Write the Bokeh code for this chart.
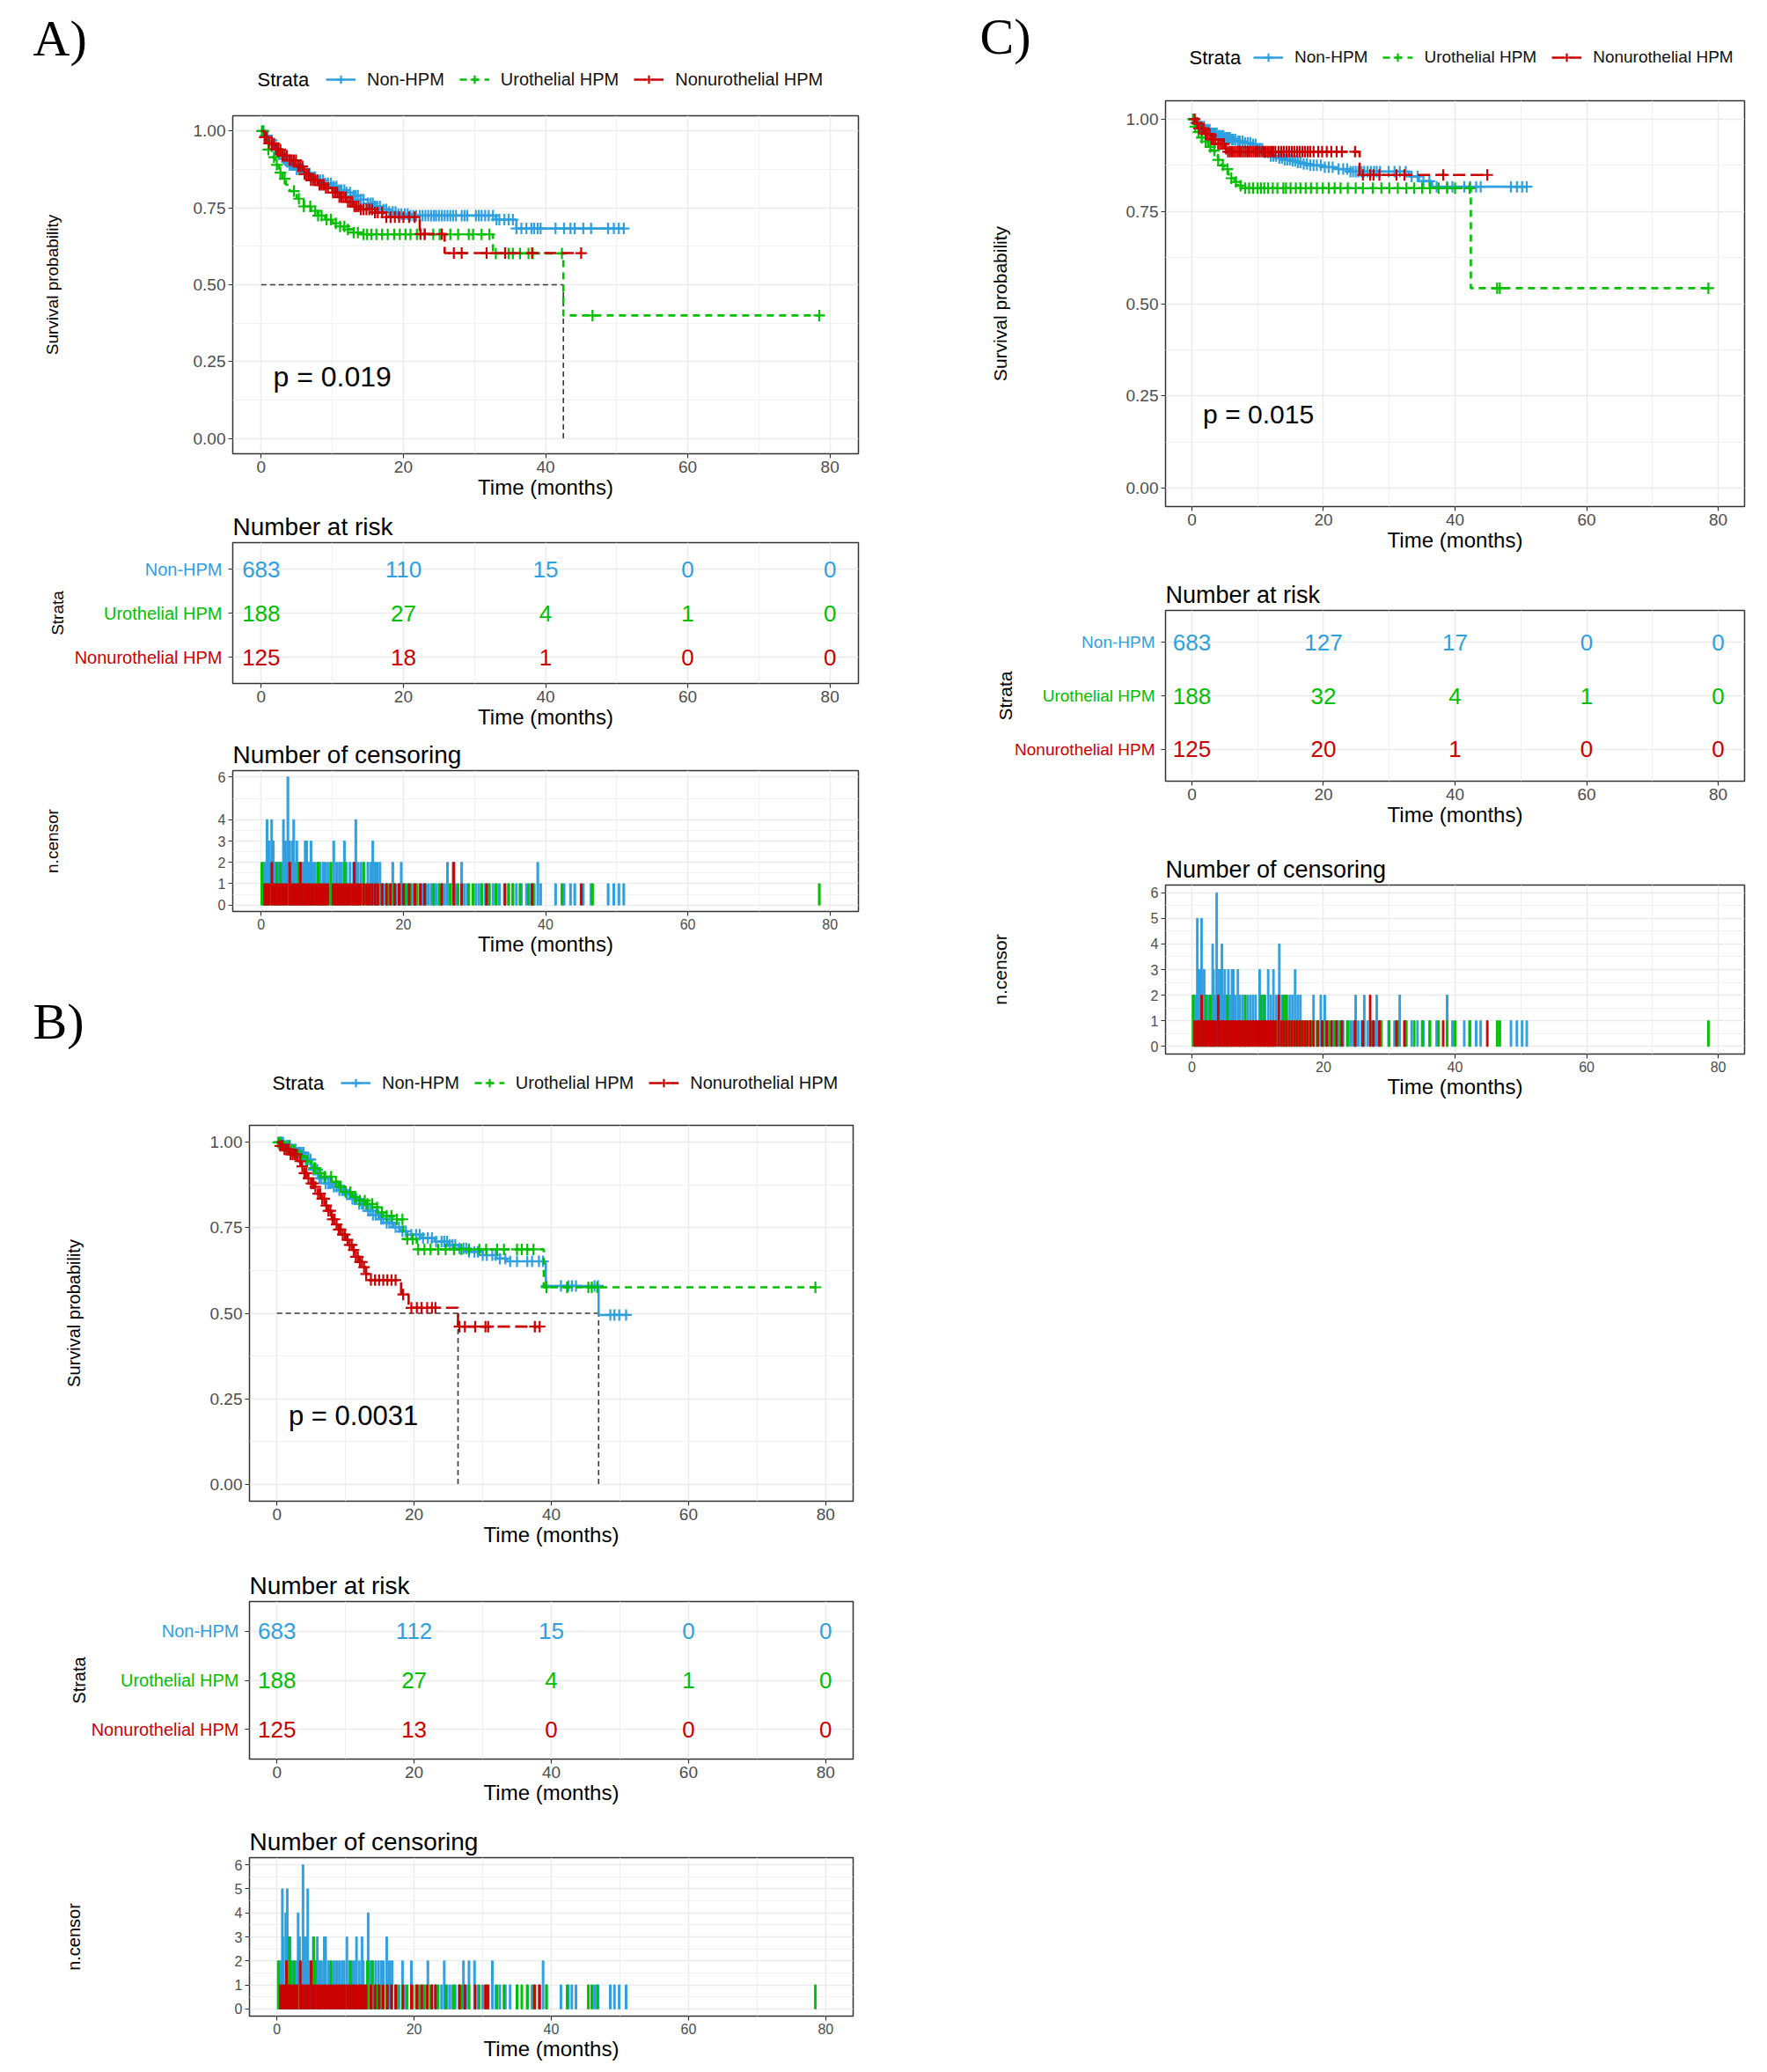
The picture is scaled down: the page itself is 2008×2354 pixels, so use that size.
import numpy as np
from bokeh.plotting import figure
from bokeh.models import (Range1d, FixedTicker, NumeralTickFormatter, Legend, LegendItem,
                          ColumnDataSource)
from bokeh.embed import file_html
from bokeh.resources import INLINE
from bokeh.core.properties import value

FONT = "Liberation Sans"
SERIF = "Liberation Serif"

GROUPS = ["Non-HPM", "Urothelial HPM", "Nonurothelial HPM"]
GROUP_COLORS = ["#2E9FDF", "#00C000", "#CC0000"]
GROUP_DASHES = ["solid", "8 6", "14 6"]
GROUP_ROWS = [3, 2, 1]
LEGEND_TITLE = "Strata"

TIME_TICKS = [0, 20, 40, 60, 80]
TIME_MINOR = [10, 30, 50, 70]
SURV_TICKS = [0, 0.25, 0.5, 0.75, 1.0]
SURV_MINOR = [0.125, 0.375, 0.625, 0.875]
RISK_TIMES = [0, 20, 40, 60, 80]

# ---------------- Panel A ----------------
A_PVAL = "p = 0.019"
A_MEDIANS = [42.5]
A_NON_ST = [0, 0.5, 1, 1.5, 2, 2.5, 3, 3.5, 4, 5, 6, 7, 8, 9, 10, 11, 12, 13, 14, 15, 16, 17, 18, 19, 21, 33, 35.9]
A_NON_SS = [1.0, 0.985, 0.97, 0.955, 0.94, 0.925, 0.91, 0.90, 0.89, 0.875, 0.862, 0.85, 0.84, 0.83, 0.82, 0.808,
            0.80, 0.79, 0.777, 0.765, 0.755, 0.745, 0.737, 0.73, 0.725, 0.712, 0.683]
A_URO_ST = [0, 0.5, 1, 1.5, 2, 2.5, 3, 3.5, 4, 5, 6, 7, 8, 9, 10, 11, 12, 13, 14, 32.6, 42.5]
A_URO_SS = [1.0, 0.97, 0.94, 0.915, 0.89, 0.865, 0.845, 0.825, 0.805, 0.78, 0.755, 0.74, 0.725, 0.712, 0.70,
            0.69, 0.68, 0.67, 0.664, 0.602, 0.40]
A_NONU_ST = [0, 0.5, 1, 2, 3, 4, 5, 6, 7, 8, 9, 10, 11, 12, 13, 14, 16, 17.5, 22.3, 25.8]
A_NONU_SS = [1.0, 0.98, 0.96, 0.94, 0.92, 0.905, 0.885, 0.86, 0.84, 0.825, 0.815, 0.80, 0.785, 0.77, 0.755,
             0.745, 0.735, 0.72, 0.665, 0.603]

A_NON_CT = [0.3, 0.6, 0.82, 1.1, 1.3, 1.48, 1.7, 2.0, 2.3, 2.6,
            2.9, 3.13, 3.4, 3.6, 3.75, 4.0, 4.2, 4.4, 4.58, 4.8,
            5.0, 5.3, 5.6, 5.9, 6.2, 6.4, 6.6, 6.8, 7.0, 7.3,
            7.6, 8.0, 8.3, 8.7, 9.0, 9.4, 9.8, 10.2, 10.6, 11.0,
            11.3, 11.7, 12.0, 12.5, 13.0, 13.3, 13.6, 14.0, 14.4, 15.0,
            15.4, 15.7, 16.0, 16.3, 16.7, 17.2, 17.6, 18.0, 18.5, 18.9,
            19.3, 19.7, 20.2, 20.6, 21.0, 21.4, 21.8, 22.3, 22.7, 23.1,
            23.5, 23.9, 24.3, 24.6, 25.0, 25.4, 25.8, 26.2, 26.6, 27.0,
            27.4, 28.2, 28.6, 29.0, 30.2, 30.6, 31.0, 31.5, 32.0, 32.6,
            33.1, 33.5, 34.2, 34.8, 35.4, 35.9, 36.6, 37.3, 38.0, 38.4,
            38.9, 39.3, 41.4, 42.6, 43.5, 44.1, 45.3, 46.4, 48.8, 49.6,
            50.3, 51.0]
A_NON_CN = [2, 2, 4, 3, 2, 4, 3, 2, 2, 2,
            2, 4, 3, 2, 6, 3, 2, 3, 4, 2,
            3, 2, 2, 2, 3, 3, 2, 2, 3, 2,
            2, 2, 2, 2, 2, 2, 2, 3, 2, 2,
            2, 3, 2, 2, 2, 4, 2, 2, 2, 2,
            2, 3, 2, 2, 2, 1, 1, 1, 2, 1,
            1, 2, 1, 1, 1, 1, 1, 1, 1, 1,
            1, 1, 1, 1, 1, 1, 1, 2, 1, 2,
            1, 2, 1, 1, 1, 1, 1, 1, 1, 1,
            1, 1, 1, 1, 1, 1, 1, 1, 1, 1,
            2, 1, 1, 1, 1, 1, 1, 1, 1, 1,
            1, 1]
A_URO_CT = [0.1, 0.3, 1.0, 1.8, 2.2, 2.7, 3.3, 4.6, 5.3, 6.0,
            6.9, 7.6, 8.0, 8.5, 9.2, 9.8, 10.5, 11.1, 11.7, 12.2,
            13.0, 13.6, 14.4, 14.9, 15.5, 16.2, 17.0, 17.8, 18.7, 19.5,
            20.3, 21.0, 21.9, 23.0, 24.2, 25.1, 26.6, 27.7, 29.2, 29.8,
            31.0, 32.1, 33.0, 34.8, 35.4, 36.4, 37.6, 38.2, 42.3, 46.6,
            78.5]
A_URO_CN = [2, 1, 1, 1, 2, 2, 1, 1, 2, 1,
            1, 1, 2, 1, 1, 2, 1, 1, 2, 1,
            1, 1, 2, 1, 1, 1, 1, 1, 1, 1,
            1, 1, 1, 1, 1, 1, 1, 1, 1, 1,
            1, 1, 1, 1, 1, 1, 1, 1, 1, 1,
            1]
A_NONU_CT = [0.5, 0.8, 1.1, 1.5, 1.8, 2.1, 2.4, 2.7, 3.0, 3.3,
             3.6, 4.0, 4.3, 4.6, 4.9, 5.2, 5.5, 5.8, 6.1, 6.4,
             6.7, 7.0, 7.3, 7.6, 7.9, 8.2, 8.5, 8.8, 9.1, 9.4,
             10.1, 10.4, 10.7, 11.0, 11.3, 11.6, 11.9, 12.2, 12.5, 12.8,
             13.1, 13.4, 13.7, 14.0, 14.4, 14.8, 15.2, 15.6, 16.0, 16.4,
             17.0, 17.6, 18.2, 18.8, 19.4, 20.0, 20.8, 21.6, 22.4, 23.0,
             25.4, 27.1, 28.2, 31.7, 34.3, 38.1, 45.0]
A_NONU_CN = [1, 1, 1, 2, 1, 1, 1, 1, 1, 1,
             1, 2, 1, 1, 1, 1, 2, 1, 1, 1,
             1, 1, 1, 1, 1, 1, 1, 1, 1, 1,
             1, 1, 1, 1, 1, 1, 1, 1, 1, 1,
             2, 1, 1, 1, 1, 1, 1, 1, 1, 1,
             1, 1, 1, 1, 1, 1, 1, 1, 1, 1,
             1, 2, 1, 1, 1, 1, 1]
A_RISK_NON = [683, 110, 15, 0, 0]
A_RISK_URO = [188, 27, 4, 1, 0]
A_RISK_NONU = [125, 18, 1, 0, 0]
A_CENS_TICKS = [0, 1, 2, 3, 4, 6]
A_CENS_MINOR = [0.5, 1.5, 2.5, 3.5, 5]

# ---------------- Panel B ----------------
B_PVAL = "p = 0.0031"
B_MEDIANS = [26.4, 46.9]
B_NON_ST = [0, 1, 2, 3, 4, 5, 6, 7, 8, 9, 10, 11, 12, 13, 14, 15, 16, 17, 18, 19, 21, 23, 25, 26.5, 28, 30,
            32, 33.5, 39.2, 46.9]
B_NON_SS = [1.0, 0.99, 0.98, 0.97, 0.95, 0.92, 0.895, 0.88, 0.87, 0.86, 0.848, 0.835, 0.82, 0.80, 0.788,
            0.776, 0.765, 0.752, 0.74, 0.73, 0.72, 0.71, 0.70, 0.69, 0.68, 0.67, 0.66, 0.652, 0.58, 0.495]
B_URO_ST = [0, 1, 2, 3, 4, 5, 6, 7, 8, 9, 10, 11, 12, 13, 14, 15, 16, 17, 18.4, 20.4, 38.9]
B_URO_SS = [1.0, 0.99, 0.975, 0.96, 0.945, 0.925, 0.91, 0.90, 0.885, 0.87, 0.855, 0.84, 0.83, 0.82, 0.81,
            0.795, 0.785, 0.775, 0.717, 0.687, 0.576]
B_NONU_ST = [0, 0.5, 1, 2, 3, 3.5, 4, 4.5, 5, 5.5, 6, 6.5, 7, 7.5, 8, 8.5, 9, 9.5, 10, 10.5, 11, 11.5, 12,
             12.5, 13, 13.4, 18.1, 19.2, 26.4]
B_NONU_SS = [1.0, 0.99, 0.98, 0.965, 0.945, 0.93, 0.91, 0.895, 0.88, 0.87, 0.85, 0.835, 0.815, 0.80, 0.775,
             0.76, 0.745, 0.73, 0.715, 0.70, 0.685, 0.665, 0.65, 0.635, 0.615, 0.597, 0.555, 0.516, 0.461]

B_NON_CT = [0.3, 0.6, 0.8, 0.9, 1.3, 1.5, 1.7, 1.9, 2.1, 2.4,
            2.7, 3.0, 3.1, 3.3, 3.5, 3.8, 3.9, 4.2, 4.5, 4.6,
            4.9, 5.3, 5.6, 5.9, 6.2, 6.5, 6.9, 7.1, 7.5, 7.8,
            8.3, 8.7, 9.1, 9.5, 9.8, 10.2, 10.6, 11.0, 11.3, 11.6,
            12.0, 12.4, 12.6, 13.3, 13.6, 14.0, 14.4, 14.8, 15.2, 15.5,
            16.0, 16.4, 16.8, 17.3, 17.8, 18.3, 18.8, 19.6, 20.3, 20.8,
            21.3, 22.0, 22.6, 23.2, 24.0, 24.4, 24.8, 25.2, 25.6, 26.0,
            26.6, 27.2, 27.6, 28.0, 28.8, 29.3, 30.0, 30.6, 31.4, 31.9,
            32.5, 33.3, 34.0, 35.0, 36.5, 37.2, 38.2, 38.8, 39.3, 41.4,
            42.5, 43.0, 43.6, 46.3, 46.8, 48.6, 49.2, 49.9, 50.9]
B_NON_CN = [2, 2, 5, 3, 4, 5, 3, 3, 2, 2,
            2, 2, 4, 3, 2, 6, 3, 3, 5, 2,
            2, 3, 2, 3, 2, 2, 3, 3, 2, 2,
            2, 2, 2, 2, 2, 3, 2, 2, 2, 3,
            2, 3, 2, 4, 2, 2, 2, 2, 2, 2,
            3, 2, 2, 1, 1, 2, 1, 2, 1, 1,
            1, 2, 1, 1, 1, 2, 1, 1, 1, 1,
            1, 2, 1, 2, 2, 1, 1, 1, 2, 1,
            1, 1, 1, 1, 1, 1, 1, 2, 1, 1,
            1, 1, 1, 1, 1, 1, 1, 1, 1]
B_URO_CT = [0.2, 0.5, 1.0, 1.8, 2.0, 2.5, 3.0, 3.6, 4.4, 5.4,
            5.6, 6.3, 7.0, 7.9, 8.6, 9.3, 10.0, 10.7, 11.4, 12.1,
            12.8, 13.2, 13.9, 14.6, 15.3, 16.0, 16.7, 17.5, 18.3, 19.0,
            19.8, 20.6, 21.5, 22.4, 23.5, 24.6, 25.8, 26.9, 28.0, 29.5,
            30.5, 32.1, 33.1, 35.0, 35.7, 36.5, 37.4, 39.3, 42.3, 45.4,
            45.9, 46.7, 78.5]
B_URO_CN = [2, 1, 1, 3, 2, 2, 1, 1, 1, 3,
            2, 1, 1, 2, 1, 1, 1, 2, 1, 1,
            1, 2, 2, 1, 1, 1, 1, 1, 1, 1,
            1, 1, 1, 1, 1, 1, 1, 1, 1, 1,
            1, 1, 1, 1, 1, 1, 1, 1, 1, 1,
            1, 1, 1]
B_NONU_CT = [0.5, 0.8, 1.1, 1.4, 1.7, 2.0, 2.3, 2.6, 2.9, 3.4,
             3.7, 4.0, 4.3, 4.6, 5.0, 5.3, 5.6, 6.0, 6.3, 6.6,
             6.9, 7.2, 7.5, 7.8, 8.1, 8.4, 8.7, 9.0, 9.3, 9.6,
             9.9, 10.3, 10.6, 10.9, 11.2, 11.5, 11.8, 12.1, 12.4, 12.7,
             13.0, 13.7, 14.3, 14.9, 15.5, 16.1, 16.7, 17.3, 18.4, 19.6,
             20.4, 21.1, 21.9, 22.6, 23.1, 26.6, 27.4, 28.9, 30.4, 30.8,
             37.6, 38.3]
B_NONU_CN = [1, 1, 1, 2, 1, 1, 1, 1, 1, 2,
             1, 1, 1, 1, 2, 1, 1, 1, 1, 1,
             1, 1, 1, 1, 1, 1, 1, 1, 1, 1,
             1, 1, 1, 1, 1, 1, 1, 1, 1, 1,
             1, 1, 1, 1, 1, 1, 1, 1, 1, 1,
             1, 1, 1, 1, 1, 1, 1, 1, 1, 1,
             1, 1]
B_RISK_NON = [683, 112, 15, 0, 0]
B_RISK_URO = [188, 27, 4, 1, 0]
B_RISK_NONU = [125, 13, 0, 0, 0]
B_CENS_TICKS = [0, 1, 2, 3, 4, 5, 6]
B_CENS_MINOR = [0.5, 1.5, 2.5, 3.5, 4.5, 5.5]

# ---------------- Panel C ----------------
C_PVAL = "p = 0.015"
C_MEDIANS = []
C_NON_ST = [0, 0.5, 1, 2, 3, 4, 5, 6, 7, 8, 9, 10, 11, 12, 13, 14, 15, 16, 17, 18, 20, 22, 24, 33, 34.5, 36.5]
C_NON_SS = [1.0, 0.99, 0.98, 0.972, 0.962, 0.955, 0.95, 0.945, 0.94, 0.936, 0.932, 0.92, 0.91, 0.90, 0.895,
            0.89, 0.887, 0.883, 0.879, 0.875, 0.87, 0.865, 0.858, 0.845, 0.832, 0.817]
C_URO_ST = [0, 0.5, 1, 1.5, 2, 2.5, 3, 3.5, 4, 4.5, 5, 5.5, 6, 6.5, 7, 7.6, 42.4]
C_URO_SS = [1.0, 0.98, 0.965, 0.95, 0.94, 0.925, 0.915, 0.90, 0.89, 0.875, 0.865, 0.85, 0.84, 0.83, 0.82,
            0.813, 0.542]
C_NONU_ST = [0, 0.5, 1, 2, 3, 4, 5, 5.5, 25.5]
C_NONU_SS = [1.0, 0.99, 0.975, 0.96, 0.945, 0.933, 0.92, 0.912, 0.849]

C_NON_CT = [0.3, 0.6, 0.84, 1.1, 1.33, 1.47, 1.87, 2.1, 2.4, 2.7,
            3.0, 3.16, 3.3, 3.55, 3.78, 4.1, 4.3, 4.58, 4.8, 5.0,
            5.3, 5.55, 5.8, 6.1, 6.3, 6.6, 7.0, 7.3, 7.7, 8.1,
            8.5, 8.9, 9.3, 9.7, 10.3, 10.7, 11.1, 11.6, 12.0, 12.4,
            12.8, 13.3, 13.7, 14.1, 14.5, 14.9, 15.3, 15.7, 16.1, 16.5,
            17.0, 17.5, 18.0, 18.5, 19.0, 19.6, 20.2, 20.8, 21.4, 22.3,
            23.0, 23.6, 24.1, 24.5, 24.9, 25.3, 25.8, 26.2, 26.7, 27.2,
            27.7, 28.1, 28.6, 29.9, 30.8, 31.6, 32.5, 33.4, 34.3, 35.2,
            36.1, 37.2, 38.8, 39.6, 41.4, 42.3, 43.2, 43.9, 48.5, 49.4,
            50.2, 50.9]
C_NON_CN = [2, 2, 5, 3, 3, 5, 3, 2, 2, 2,
            2, 4, 3, 2, 6, 3, 3, 4, 2, 3,
            2, 3, 2, 3, 3, 2, 3, 2, 2, 2,
            2, 2, 2, 2, 3, 2, 2, 3, 2, 3,
            2, 4, 2, 2, 2, 2, 2, 3, 2, 2,
            1, 1, 1, 2, 1, 2, 2, 1, 1, 1,
            1, 1, 1, 1, 2, 1, 1, 2, 1, 1,
            1, 2, 1, 1, 1, 2, 1, 1, 1, 1,
            1, 1, 2, 1, 1, 1, 1, 1, 1, 1,
            1, 1]
C_URO_CT = [0.18, 0.5, 1.0, 1.5, 2.1, 2.8, 3.4, 4.0, 4.7, 5.4,
            6.0, 6.7, 7.4, 8.1, 8.7, 9.3, 10.0, 10.5, 11.0, 11.6,
            12.3, 13.0, 13.9, 14.3, 15.0, 15.8, 16.5, 17.3, 18.1, 19.0,
            19.9, 20.8, 21.7, 22.6, 23.7, 24.9, 26.0, 27.5, 28.8, 30.0,
            31.3, 32.6, 33.8, 35.0, 36.2, 37.5, 38.8, 40.0, 42.2, 46.4,
            46.8, 78.5]
C_URO_CN = [2, 1, 1, 1, 2, 2, 1, 1, 1, 2,
            1, 1, 1, 2, 1, 1, 1, 2, 2, 1,
            1, 1, 2, 2, 1, 1, 1, 1, 1, 1,
            1, 1, 1, 1, 1, 1, 1, 1, 1, 1,
            1, 1, 1, 1, 1, 1, 1, 1, 1, 1,
            1, 1]
C_NONU_CT = [0.44, 0.8, 1.1, 1.5, 1.8, 2.1, 2.4, 2.7, 3.0, 3.3,
             3.6, 4.0, 4.3, 4.6, 4.9, 5.2, 5.5, 5.8, 6.1, 6.4,
             6.7, 7.0, 7.3, 7.6, 7.9, 8.2, 8.5, 8.8, 9.1, 9.4,
             9.7, 10.0, 10.3, 10.6, 10.9, 11.2, 11.5, 11.8, 12.1, 12.4,
             12.7, 13.2, 13.6, 14.0, 14.4, 14.8, 15.2, 15.6, 16.0, 16.4,
             16.8, 17.2, 17.6, 18.0, 18.5, 19.2, 19.8, 20.5, 21.2, 22.0,
             22.8, 24.8, 26.0, 27.1, 27.6, 28.5, 31.1, 32.3, 38.2, 44.9]
C_NONU_CN = [1, 1, 1, 2, 1, 1, 1, 1, 1, 1,
             1, 2, 1, 1, 1, 1, 1, 1, 1, 1,
             1, 1, 1, 1, 1, 1, 1, 1, 1, 1,
             1, 1, 1, 1, 1, 1, 1, 1, 1, 1,
             1, 2, 1, 1, 1, 1, 1, 1, 1, 1,
             1, 1, 1, 1, 1, 1, 1, 1, 1, 1,
             1, 1, 1, 2, 1, 1, 1, 1, 1, 1]
C_RISK_NON = [683, 127, 17, 0, 0]
C_RISK_URO = [188, 32, 4, 1, 0]
C_RISK_NONU = [125, 20, 1, 0, 0]
C_CENS_TICKS = [0, 1, 2, 3, 4, 5, 6]
C_CENS_MINOR = [0.5, 1.5, 2.5, 3.5, 4.5, 5.5]


def place(p, left, top):
    p.styles = {"position": "absolute", "left": f"{left}px", "top": f"{top}px"}


def new_fig(g, xr, yr, **kw):
    left, top, W, H, bl, br, bt, bb = g
    p = figure(width=W, height=H, x_range=xr, y_range=yr, output_backend="svg", toolbar_location=None,
               min_border_left=bl, min_border_right=br, min_border_top=bt, min_border_bottom=bb, **kw)
    place(p, left, top)
    return p


def transparent(p):
    p.background_fill_color = None
    p.border_fill_color = None
    p.outline_line_color = None


def base_style(p, tick_fs, xtitle_fs, ytitle_fs, ystandoff):
    p.background_fill_color = "white"
    p.border_fill_color = None
    p.outline_line_color = "#333333"
    p.outline_line_width = 1.5
    for ax in p.axis:
        ax.axis_line_color = None
        ax.major_tick_line_color = "#333333"
        ax.major_tick_line_width = 1.2
        ax.major_tick_out = 5
        ax.major_tick_in = 0
        ax.minor_tick_line_color = None
        ax.major_label_text_font = FONT
        ax.major_label_text_font_size = f"{tick_fs}px"
        ax.major_label_text_color = "#4D4D4D"
        ax.major_label_standoff = 3
        ax.axis_label_text_font = FONT
        ax.axis_label_text_font_style = "normal"
        ax.axis_label_text_color = "black"
    p.xaxis.axis_label_text_font_size = f"{xtitle_fs}px"
    p.yaxis.axis_label_text_font_size = f"{ytitle_fs}px"
    p.xaxis.axis_label_standoff = 0
    p.yaxis.axis_label_standoff = ystandoff
    xt = FixedTicker(ticks=TIME_TICKS, minor_ticks=TIME_MINOR)
    p.xaxis.ticker = xt
    p.xgrid.ticker = xt
    p.xaxis.axis_label = "Time (months)"
    for g in (p.xgrid, p.ygrid):
        g.grid_line_color = "#EBEBEB"
        g.grid_line_width = 1.5
        g.minor_grid_line_color = "#F1F1F1"
        g.minor_grid_line_width = 1


def set_title(p, text, fs):
    p.title.text = text
    p.title.text_font = FONT
    p.title.text_font_size = f"{fs}px"
    p.title.text_font_style = "normal"
    p.title.text_color = "black"
    p.title.align = "left"
    p.title.standoff = 6


def surv_fig(g, curves, cens, pval, medians, fs):
    p = new_fig(g, Range1d(-4, 84), Range1d(-0.05, 1.05))
    base_style(p, fs["tick"], fs["xtitle"], fs["ytitle"], fs["ysurv"])
    yt = FixedTicker(ticks=SURV_TICKS, minor_ticks=SURV_MINOR)
    p.yaxis.ticker = yt
    p.ygrid.ticker = yt
    p.yaxis.formatter = NumeralTickFormatter(format="0.00")
    p.yaxis.axis_label = "Survival probability"

    if medians:
        n = len(medians)
        p.line([0, max(medians)], [0.5, 0.5], line_color="#3A3A3A", line_width=1.6, line_dash="6 4")
        p.segment(x0=medians, y0=[0] * n, x1=medians, y1=[0.5] * n,
                  line_color="#3A3A3A", line_width=1.6, line_dash="6 4")

    for (st, ss), (ct, cn), color, dash in zip(curves, cens, GROUP_COLORS, GROUP_DASHES):
        st = np.asarray(st, float)
        ss = np.asarray(ss, float)
        ct = np.asarray(ct, float)
        end = max(st[-1], ct.max())
        xs = np.append(st, end)
        ys = np.append(ss, ss[-1])
        p.step(xs, ys, mode="after", line_color=color, line_width=2.6, line_dash=dash)
        idx = np.searchsorted(st, ct, side="right") - 1
        p.scatter(ct, ss[idx], marker="cross", size=13, line_color=color, line_width=2.2)

    p.text(x=[1.7], y=[0.2], text=[pval], text_font=value(FONT), text_font_size=f"{fs['pval']}px",
           text_baseline="middle", text_align="left", text_color="black")
    return p


def legend_fig(left, top, W, H, fs, offset, curves):
    """Legend keys: each group's own curve start (time 0, survival 1) drawn far outside the
    visible window of this small legend-only plot, so only the legend entries show."""
    g = (left, top, W, H, 0, 0, 0, 0)
    p = new_fig(g, Range1d(10, 10 + W), Range1d(10, 10 + H), x_axis_type=None, y_axis_type=None)
    transparent(p)
    p.text(x=[10], y=[10 + H / 2], text=[LEGEND_TITLE], text_font=value(FONT),
           text_font_size=f"{fs['ltitle']}px", text_baseline="middle", text_align="left",
           text_color="black")
    items = []
    for name, (st, ss), color, dash in zip(GROUPS, curves, GROUP_COLORS, GROUP_DASHES):
        r1 = p.step(x=st[:2], y=ss[:2], mode="after", line_color=color, line_width=2.6, line_dash=dash)
        r2 = p.scatter(x=st[:1], y=ss[:1], marker="cross", size=13, line_color=color, line_width=2.2)
        items.append(LegendItem(label=name, renderers=[r1, r2]))
    gh = 24
    leg = Legend(items=items, orientation="horizontal", location=(offset, (H - gh) / 2), glyph_width=34,
                 glyph_height=gh, label_height=gh, label_standoff=13, spacing=17, padding=0, margin=0,
                 border_line_color=None, background_fill_alpha=0, label_text_font=FONT,
                 label_text_font_size=f"{fs['legend']}px", label_text_color="#111111")
    p.add_layout(leg)
    return p


def risk_fig(g, risks, fs, ystand):
    p = new_fig(g, Range1d(-4, 84), Range1d(0.4, 3.6))
    base_style(p, fs["tick"], fs["xtitle"], fs["ytitle"], ystand)
    set_title(p, "Number at risk", fs["ttitle"])
    yt = FixedTicker(ticks=GROUP_ROWS, minor_ticks=[])
    p.yaxis.ticker = yt
    p.ygrid.ticker = yt
    p.yaxis.major_label_overrides = {1: "", 2: "", 3: ""}
    p.yaxis.axis_label = "Strata"
    p.ygrid.minor_grid_line_color = None

    xs, ys, txt, cols = [], [], [], []
    for rv, r, c in zip(risks, GROUP_ROWS, GROUP_COLORS):
        for t, v in zip(RISK_TIMES, rv):
            xs.append(t)
            ys.append(r)
            txt.append(str(v))
            cols.append(c)
    src = ColumnDataSource(dict(x=xs, y=ys, text=txt, color=cols))
    p.text(x="x", y="y", text="text", text_color="color", source=src, text_align="center",
           text_baseline="middle", text_font=value(FONT), text_font_size=f"{fs['risk']}px")
    return p


def row_label_fig(g, fs):
    p = new_fig(g, Range1d(0, 1), Range1d(0.4, 3.6), x_axis_type=None, y_axis_type=None)
    transparent(p)
    src = ColumnDataSource(dict(x=[1, 1, 1], y=GROUP_ROWS, text=GROUPS, color=GROUP_COLORS))
    p.text(x="x", y="y", text="text", text_color="color", source=src, text_align="right",
           text_baseline="middle", text_font=value(FONT), text_font_size=f"{fs['row']}px")
    return p


def letter_fig(left, top, W, H, letter, lx, ly):
    g = (left, top, W, H, 0, 0, 0, 0)
    p = new_fig(g, Range1d(left, left + W), Range1d(top + H, top), x_axis_type=None, y_axis_type=None)
    transparent(p)
    p.text(x=[lx], y=[ly], text=[letter], text_font=value(SERIF), text_font_size="58px",
           text_baseline="middle", text_align="left", text_color="black")
    return p


def cens_fig(g, cens, ticks, minor, fs, ystand):
    p = new_fig(g, Range1d(-4, 84), Range1d(-0.3, 6.3))
    base_style(p, fs["ctick"], fs["xtitle"], fs["ytitle"], ystand)
    set_title(p, "Number of censoring", fs["ttitle"])
    yt = FixedTicker(ticks=ticks, minor_ticks=minor)
    p.yaxis.ticker = yt
    p.ygrid.ticker = yt
    p.yaxis.axis_label = "n.censor"
    for i in [0, 1, 2]:  # blue, green, red drawing order
        ct, cn = cens[i]
        p.vbar(x=ct, top=cn, bottom=0, width=0.25, fill_color=GROUP_COLORS[i],
               line_color=GROUP_COLORS[i], line_width=1)
    return p


FS_A = dict(tick=19, ctick=16, xtitle=24, ytitle=19, legend=20, ltitle=22, pval=32, risk=26, row=20,
            ttitle=28, ysurv=147)
FS_B = dict(tick=19, ctick=16, xtitle=24, ytitle=20, legend=20, ltitle=22, pval=31, risk=26, row=20,
            ttitle=28, ysurv=141)
FS_C = dict(tick=19, ctick=16, xtitle=24, ytitle=21, legend=19, ltitle=22, pval=30, risk=26, row=19,
            ttitle=27, ysurv=129)

A_curves = [(A_NON_ST, A_NON_SS), (A_URO_ST, A_URO_SS), (A_NONU_ST, A_NONU_SS)]
A_cens = [(A_NON_CT, A_NON_CN), (A_URO_CT, A_URO_CN), (A_NONU_CT, A_NONU_CN)]
B_curves = [(B_NON_ST, B_NON_SS), (B_URO_ST, B_URO_SS), (B_NONU_ST, B_NONU_SS)]
B_cens = [(B_NON_CT, B_NON_CN), (B_URO_CT, B_URO_CN), (B_NONU_CT, B_NONU_CN)]
C_curves = [(C_NON_ST, C_NON_SS), (C_URO_ST, C_URO_SS), (C_NONU_ST, C_NONU_SS)]
C_cens = [(C_NON_CT, C_NON_CN), (C_URO_CT, C_URO_CN), (C_NONU_CT, C_NONU_CN)]

for cset in (A_cens, B_cens, C_cens):
    for ct, cn in cset:
        assert len(ct) == len(cn), (len(ct), len(cn))
for cset in (A_curves, B_curves, C_curves):
    for st, ss in cset:
        assert len(st) == len(ss), (len(st), len(ss))

# geometry: (left, top, width, height, border_left, border_right, border_top, border_bottom)
gA1 = (0, 0, 1010, 575, 264, 35, 131, 60)
gA2 = (0, 575, 1010, 257, 264, 35, 41, 56)
gA3 = (0, 832, 1010, 280, 264, 35, 43, 77)
gB1 = (0, 1112, 1010, 656, 283, 41, 166, 63)
gB2 = (0, 1768, 1010, 284, 283, 41, 51, 54)
gB3 = (0, 2052, 1010, 296, 283, 41, 58, 58)
gC1 = (1010, 0, 990, 650, 314, 18, 114, 75)
gC2 = (1010, 650, 990, 305, 314, 18, 43, 68)
gC3 = (1010, 955, 990, 305, 314, 18, 50, 63)

roots = [
    surv_fig(gA1, A_curves, A_cens, A_PVAL, A_MEDIANS, FS_A),
    risk_fig(gA2, [A_RISK_NON, A_RISK_URO, A_RISK_NONU], FS_A, 184),
    cens_fig(gA3, A_cens, A_CENS_TICKS, A_CENS_MINOR, FS_A, 175),
    surv_fig(gB1, B_curves, B_cens, B_PVAL, B_MEDIANS, FS_B),
    risk_fig(gB2, [B_RISK_NON, B_RISK_URO, B_RISK_NONU], FS_B, 178),
    cens_fig(gB3, B_cens, B_CENS_TICKS, B_CENS_MINOR, FS_B, 169),
    surv_fig(gC1, C_curves, C_cens, C_PVAL, C_MEDIANS, FS_C),
    risk_fig(gC2, [C_RISK_NON, C_RISK_URO, C_RISK_NONU], FS_C, 166),
    cens_fig(gC3, C_cens, C_CENS_TICKS, C_CENS_MINOR, FS_C, 157),
    # legends above the survival panels
    legend_fig(292, 65, 706, 50, FS_A, 78, A_curves),
    legend_fig(309, 1205, 690, 50, FS_B, 78, B_curves),
    legend_fig(1351, 40, 652, 50, FS_C, 73, C_curves),
    # coloured strata names beside the risk tables
    row_label_fig((30, 575, 222, 257, 0, 0, 41, 56), FS_A),
    row_label_fig((30, 1768, 241, 284, 0, 0, 51, 54), FS_B),
    row_label_fig((1030, 650, 282, 305, 0, 0, 43, 68), FS_C),
    # panel letters
    letter_fig(20, 0, 110, 90, "A)", 37, 43),
    letter_fig(20, 1112, 110, 90, "B)", 37, 1160),
    letter_fig(1100, 0, 110, 90, "C)", 1113, 41),
]

open("out.html", "w").write(file_html(roots, INLINE))
